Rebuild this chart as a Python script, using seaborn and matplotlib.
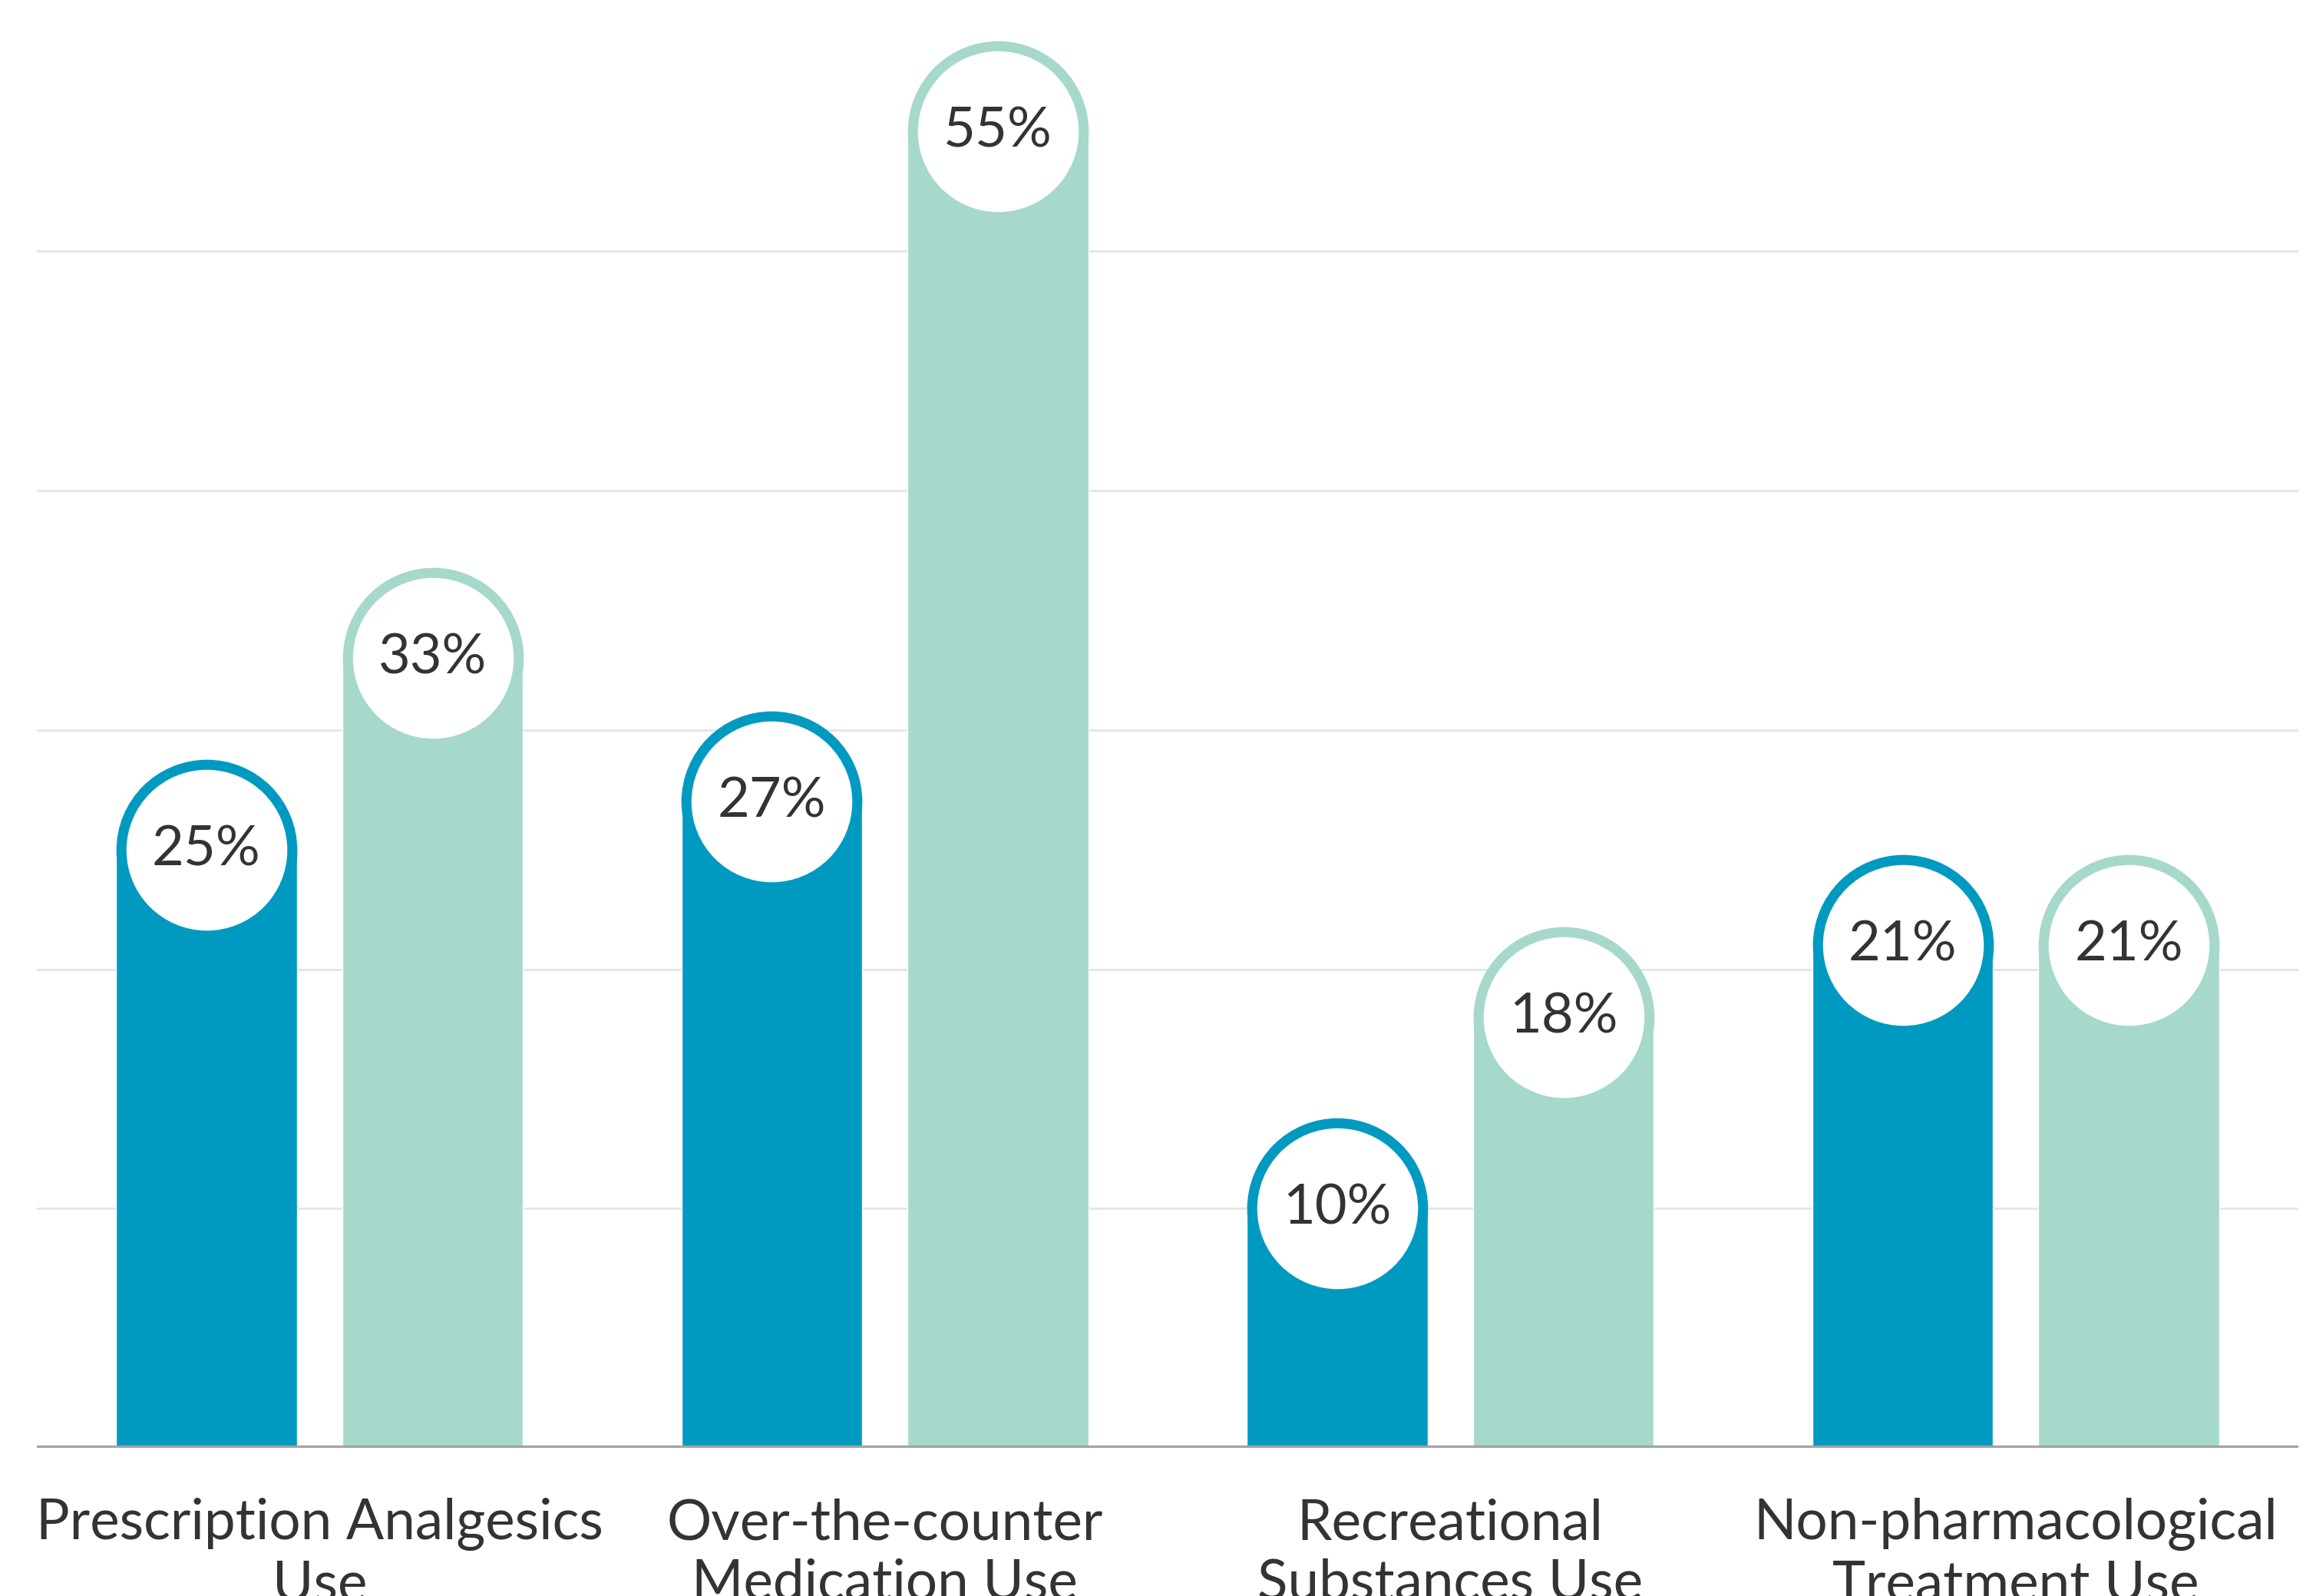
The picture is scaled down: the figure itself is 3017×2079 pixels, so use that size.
import matplotlib
matplotlib.use("Agg")
import matplotlib.pyplot as plt
import seaborn as sns
import pandas as pd

categories = ["Prescription Analgesics\nUse", "Over-the-counter\nMedication Use",
              "Recreational\nSubstances Use", "Non-pharmacological\nTreatment Use"]
series_names = ["Series 1", "Series 2"]
series1 = [25, 27, 10, 21]
series2 = [33, 55, 18, 21]
colors = ["#009ac1", "#a6d8cc"]

rows = []
for c, v in zip(categories, series1):
    rows.append({"category": c, "series": series_names[0], "value": v})
for c, v in zip(categories, series2):
    rows.append({"category": c, "series": series_names[1], "value": v})
df = pd.DataFrame(rows)

sns.set_theme(style="white")
plt.rcParams["font.family"] = ["Lato", "DejaVu Sans"]

DPI = 100
fig = plt.figure(figsize=(30.17, 20.79), dpi=DPI)
ax = fig.add_axes([0.0159, 0.0928, 0.9765, 0.9072])

sns.barplot(data=df, x="category", y="value", hue="series", order=categories,
            hue_order=series_names, palette=colors, saturation=1, width=0.8,
            gap=0.2, legend=False, ax=ax, zorder=2)

ax.set_xlim(-0.5, 3.5)
ax.set_ylim(0, 60.5)
ax.set_yticks([10, 20, 30, 40, 50])
ax.set_yticklabels([])
ax.tick_params(axis="y", length=0)
ax.grid(axis="y", color="#e6e6e6", linewidth=2.2, zorder=0)
ax.set_axisbelow(True)
for s in ["top", "right", "left", "bottom"]:
    ax.spines[s].set_visible(False)
ax.axhline(0, color="#a3a3a3", linewidth=4.5, zorder=5)
ax.set_xlabel("")
ax.set_ylabel("")
ax.tick_params(axis="x", length=0, pad=47, labelsize=52.5, labelcolor="#333333")

fig.canvas.draw()
for p in ax.patches:
    w = p.get_width()
    h = p.get_height()
    if h <= 0:
        continue
    cx = p.get_x() + w / 2
    px = ax.transData.transform((w, 0))[0] - ax.transData.transform((0, 0))[0]
    pts = px * 72 / DPI
    ax.scatter([cx], [h], s=pts ** 2, color=p.get_facecolor(), linewidths=0, zorder=3)
    ax.scatter([cx], [h], s=(pts * 0.889) ** 2, color="white", linewidths=0, zorder=4)
    ax.text(cx, h, f"{h:.0f}%", ha="center", va="center", fontsize=52,
            color="#333333", zorder=6)

fig.savefig("out.png", dpi=DPI)
